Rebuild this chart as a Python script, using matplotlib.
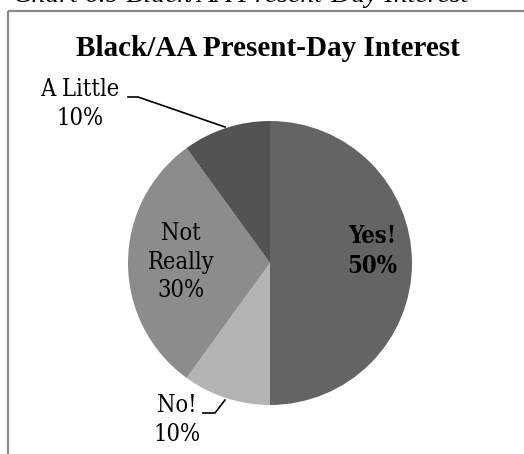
import matplotlib
matplotlib.use("Agg")
import matplotlib.pyplot as plt

title = "Black/AA Present-Day Interest"
caption = "Chart 6.9 Black/AA Present-Day Interest"
categories = ["Yes!", "No!", "Not Really", "A Little"]
values = [50, 10, 30, 10]
colors = ["#646464", "#b4b4b4", "#8c8c8c", "#535353"]

W, H = 524, 454
fig = plt.figure(figsize=(W / 100, H / 100), dpi=100)
ax = fig.add_axes([0, 0, 1, 1])

def Y(py):
    return H - py

cx, cy, r = 270, Y(263), 142
ax.pie(values, colors=colors, startangle=90, counterclock=False,
       center=(cx, cy), radius=r, frame=True,
       wedgeprops=dict(linewidth=0))
ax.set_xlim(0, W)
ax.set_ylim(0, H)
ax.axis("off")

# frame box
ax.plot([8, 8], [Y(11), Y(460)], color="#8a8a8a", lw=1.6, solid_capstyle="butt")
ax.plot([8, 530], [Y(11), Y(11)], color="#8a8a8a", lw=1.6, solid_capstyle="butt")

# clipped caption above
ax.text(13, Y(2), caption, fontsize=20, family="Liberation Serif", style="italic",
        ha="left", va="baseline", color="black")

ax.text(268, Y(48), title, fontsize=21, family="Liberation Serif", weight="bold",
        ha="center", va="center")

lab = dict(family="DejaVu Serif", stretch="condensed", fontsize=17,
           ha="center", va="center", linespacing=1.32)
ax.text(372, Y(251), f"{categories[0]}\n{values[0]}%", weight="bold", **lab)
ax.text(181, Y(262), "Not\nReally\n" + f"{values[2]}%", **lab)
ax.text(80, Y(104), f"{categories[3]}\n{values[3]}%", **lab)
ax.text(177, Y(420), f"{categories[1]}\n{values[1]}%", **lab)

# leader lines
ax.plot([128, 138, 225], [Y(97), Y(97), Y(127)], color="black", lw=1.2)
ax.plot([203, 215, 225], [Y(413), Y(413), Y(400)], color="black", lw=1.2)

fig.savefig("out.png", dpi=100)
